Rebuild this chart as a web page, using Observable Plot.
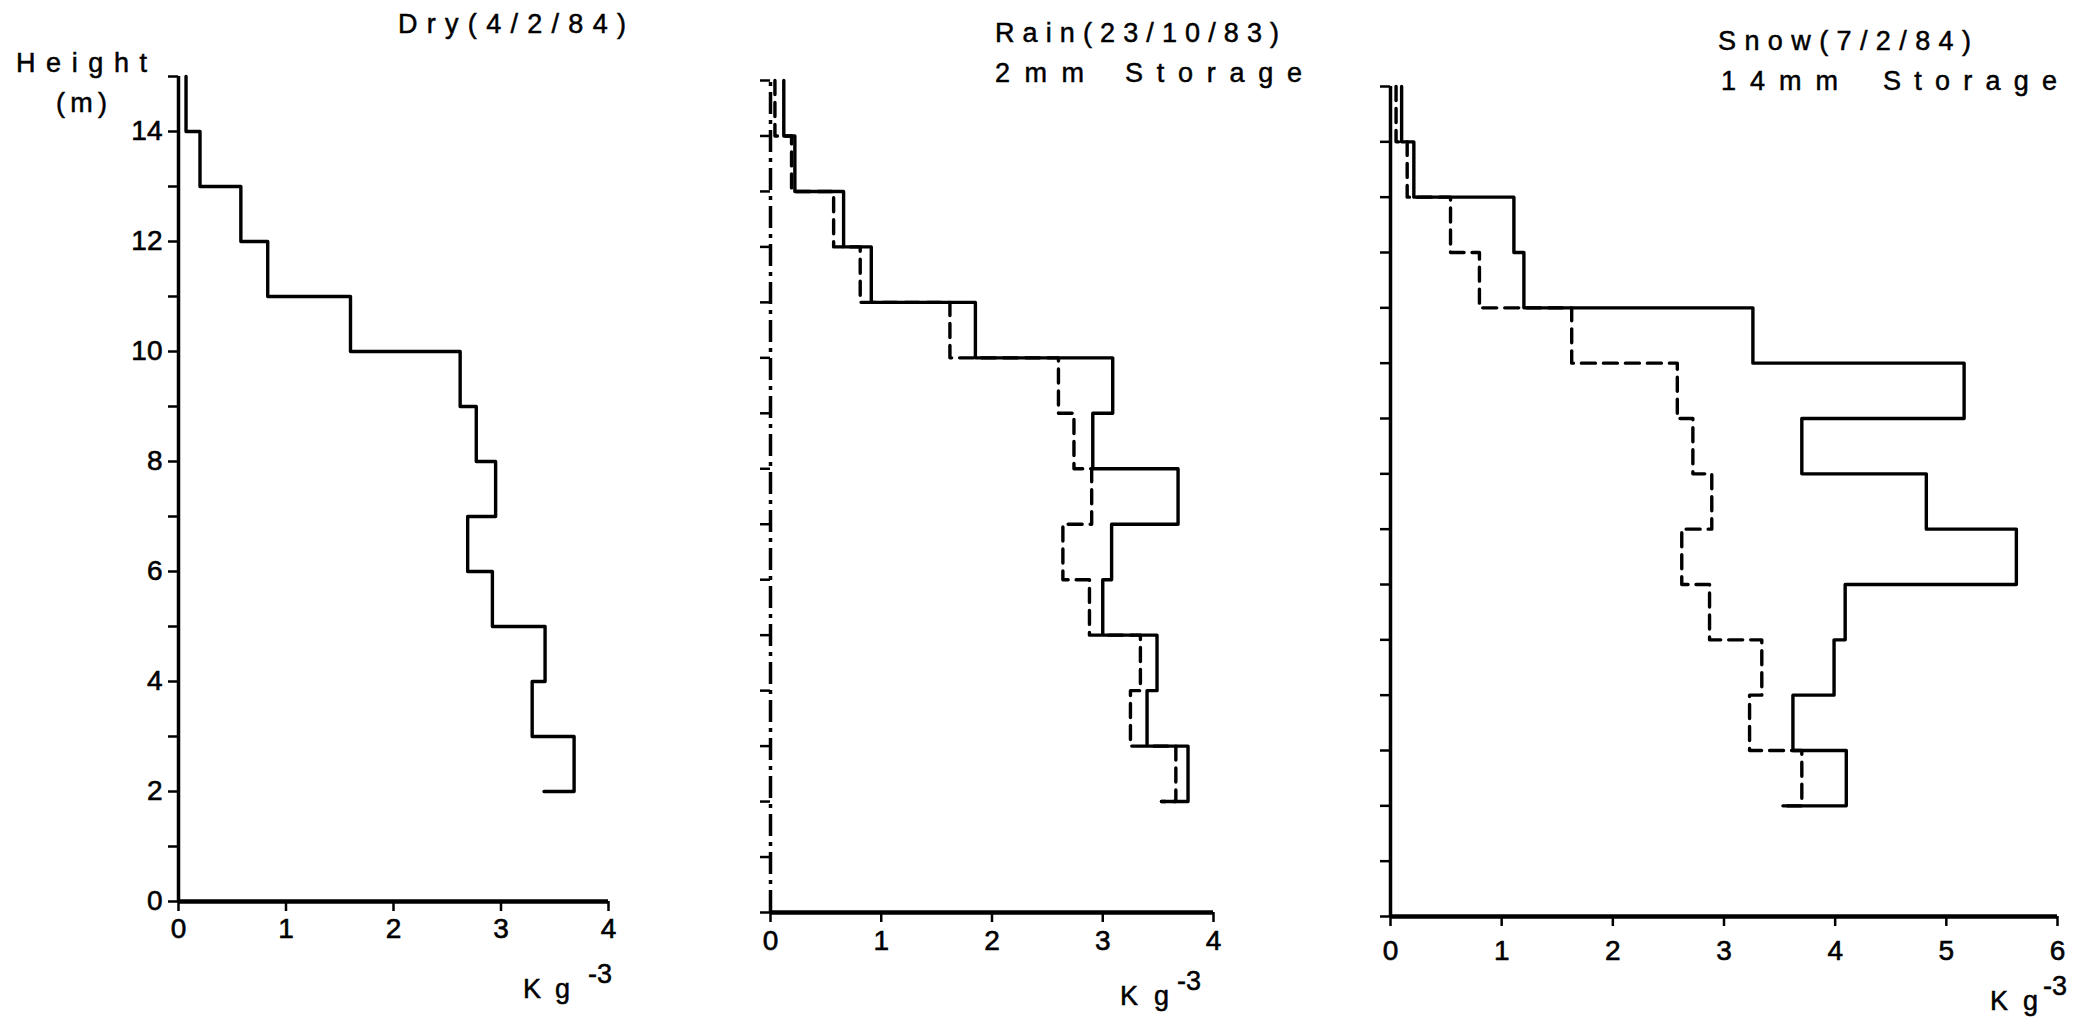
<!DOCTYPE html>
<html>
<head>
<meta charset="utf-8">
<script src="https://cdn.jsdelivr.net/npm/d3@7"></script>
<script src="https://cdn.jsdelivr.net/npm/@observablehq/plot@0.6"></script>
<style>
  html, body { margin: 0; padding: 0; background: #fff; }
  #figure { position: relative; width: 2085px; height: 1026px; overflow: hidden; background: #fff; }
  #figure svg { position: absolute; top: 0; }
  #figure svg.panel text { font-family: "Liberation Sans", Arial, sans-serif !important; font-size: 28px !important; fill: #000; stroke: #000; stroke-width: 0.6px; }
  #labels text { font-family: "Liberation Sans", Arial, sans-serif; font-size: 27px; fill: #000; stroke: #000; stroke-width: 0.5px; }
</style>
</head>
<body>
<div id="figure"></div>
<script>
// Top of each 1 m layer (m); the last entry is the base of the profile,
// where the trace closes with a short horizontal stroke.
const heights = [15, 14, 13, 12, 11, 10, 9, 8, 7, 6, 5, 4, 3, 2];

// Density per layer (Kg m^-3, printed "Kg-3"), top layer first; last value = closing stroke.
const dryDensity   = [0.07, 0.20, 0.58, 0.83, 1.60, 2.62, 2.77, 2.95, 2.69, 2.92, 3.41, 3.29, 3.68, 3.40];
const rainDensity  = [0.12, 0.22, 0.66, 0.91, 1.85, 3.09, 2.91, 3.68, 3.08, 3.00, 3.49, 3.40, 3.77, 3.53];
const rainDryRef   = [0.04, 0.19, 0.57, 0.81, 1.62, 2.60, 2.74, 2.90, 2.64, 2.88, 3.34, 3.25, 3.66, 3.53];
const snowDensity  = [0.10, 0.21, 1.11, 1.20, 3.26, 5.16, 3.70, 4.82, 5.63, 4.09, 3.99, 3.62, 4.10, 3.53];
const snowDryRef   = [0.05, 0.15, 0.54, 0.80, 1.63, 2.58, 2.72, 2.89, 2.62, 2.87, 3.34, 3.23, 3.70, 3.53];

// Axis tick values
const heightTicks = d3.range(0, 16);
const dryTicks  = [0, 1, 2, 3, 4];
const rainTicks = [0, 1, 2, 3, 4];
const snowTicks = [0, 1, 2, 3, 4, 5, 6];

// Text
const dryTitle = "Dry(4/2/84)";
const rainTitle = ["Rain(23/10/83)", "2mm", "Storage"];
const snowTitle = ["Snow(7/2/84)", "14mm", "Storage"];
const yTitle = ["Height", "(m)"];
const unitText = ["K", "g", "-3"];

const FONT = '"Liberation Sans", Arial, sans-serif';
const fig = document.getElementById("figure");

function profile(values) {
  return heights.map((h, i) => ({h, v: values[i]}));
}

function panel({left, width, marginLeft, marginRight, marginTop, marginBottom, ticks, xPad, yLabels, axisDash, series}) {
  const xMax = ticks[ticks.length - 1];
  const chart = Plot.plot({
    width,
    height: 1026,
    marginLeft, marginRight, marginTop, marginBottom,
    className: "panel",
    style: {background: "transparent", fontFamily: FONT, fontSize: "28px", color: "#000", overflow: "visible"},
    x: {domain: [0, xMax]},
    y: {domain: [0, 15]},
    marks: [
      Plot.axisX({ticks, tickSize: 10, tickPadding: xPad, strokeWidth: 2.5, label: null, tickFormat: d => String(d)}),
      Plot.axisY({ticks: heightTicks, tickSize: 10, tickPadding: 6, strokeWidth: 2.5, label: null,
                  tickFormat: yLabels ? (d => d % 2 === 0 ? String(d) : "") : () => ""}),
      Plot.ruleX([0], {y1: 0, y2: 15, stroke: "#000", strokeWidth: 3.5, strokeDasharray: axisDash}),
      Plot.ruleY([0], {x1: 0, x2: xMax, stroke: "#000", strokeWidth: 4.5}),
      ...series.map(s => Plot.line(profile(s.values), {
        x: "v", y: "h", curve: "step-before",
        stroke: "#000", strokeWidth: 3.4, strokeDasharray: s.dash
      }))
    ]
  });
  chart.classList.add("panel");
  chart.style.position = "absolute";
  chart.style.left = left + "px";
  chart.style.top = "0px";
  fig.append(chart);
}

// Dry panel: x 0..4
panel({left: 0, width: 680, marginLeft: 178, marginRight: 72, marginTop: 76, marginBottom: 125,
       ticks: dryTicks, xPad: 7, yLabels: true,
       series: [{values: dryDensity}]});

// Rain panel: x 0..4, dry profile dashed for comparison
panel({left: 680, width: 620, marginLeft: 90, marginRight: 87, marginTop: 80, marginBottom: 114,
       ticks: rainTicks, xPad: 8, yLabels: false, axisDash: "22,6,4,6",
       series: [{values: rainDryRef, dash: "14,8"}, {values: rainDensity}]});

// Snow panel: x 0..6, dry profile dashed for comparison
panel({left: 1300, width: 785, marginLeft: 90, marginRight: 28, marginTop: 86, marginBottom: 110,
       ticks: snowTicks, xPad: 14, yLabels: false,
       series: [{values: snowDryRef, dash: "14,8"}, {values: snowDensity}]});

// Titles and axis captions
const svg = d3.select(fig).append("svg")
  .attr("id", "labels")
  .attr("width", 2085).attr("height", 1026)
  .style("left", "0px").style("pointer-events", "none");

function spaced(str, x, y, len) {
  svg.append("text").attr("x", x).attr("y", y)
    .attr("textLength", len).attr("lengthAdjust", "spacing").text(str);
}

spaced(dryTitle, 398, 33, 228);
spaced(yTitle[0], 16, 72, 131);
spaced(yTitle[1], 56, 112, 51);

spaced(rainTitle[0], 995, 42, 284);
spaced(rainTitle[1], 995, 82, 89);
spaced(rainTitle[2], 1125, 82, 177);

spaced(snowTitle[0], 1718, 50, 253);
spaced(snowTitle[1], 1721, 90, 117);
spaced(snowTitle[2], 1883, 90, 174);

function unit(xK, xg, xs, y) {
  const t = svg.append("text").attr("y", y);
  t.append("tspan").attr("x", xK).text(unitText[0]);
  t.append("tspan").attr("x", xg).text(unitText[1]);
  t.append("tspan").attr("x", xs).attr("dy", -15).text(unitText[2]);
}
unit(523, 555, 588, 998);
unit(1120, 1154, 1177, 1005);
unit(1990, 2023, 2043, 1010);
</script>
</body>
</html>
